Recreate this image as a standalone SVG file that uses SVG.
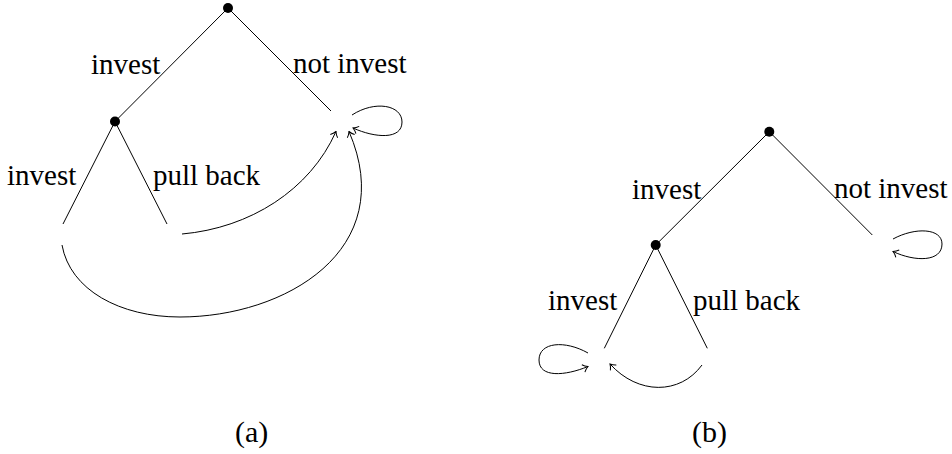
<svg xmlns="http://www.w3.org/2000/svg" width="952" height="454" viewBox="0 0 952 454">
<style>
  .edge { fill: none; stroke: #000; stroke-width: 1; }
  .arr { fill: none; stroke: #000; stroke-width: 1; marker-end: url(#to); }
  .dot { fill: #000; }
  text { font-family: "Liberation Serif", "DejaVu Serif", serif; font-size: 29px; fill: #000; }
  .cap { font-size: 30px; }
</style>
<defs>
  <marker id="to" viewBox="-6 -5 7 10" refX="0" refY="0" markerWidth="7" markerHeight="10" markerUnits="userSpaceOnUse" orient="auto">
    <path d="M -5 -4 C -3 -1.5, -1 -0.5, 0 0 C -1 0.5, -3 1.5, -5 4" fill="none" stroke="#000" stroke-width="1"/>
  </marker>
</defs>
<rect width="952" height="454" fill="#fff"/>

<g id="connectors">
  <!-- tree (a) -->
  <line class="edge" x1="228" y1="8" x2="115" y2="121.5"/>
  <line class="edge" x1="228" y1="8" x2="331" y2="111"/>
  <line class="edge" x1="115" y1="121.5" x2="63" y2="224"/>
  <line class="edge" x1="115" y1="121.5" x2="167" y2="224"/>
  <path class="arr" d="M 352 115 C 375 100, 402 105, 402 122 C 402 140, 375 138, 353 128"/>
  <path class="arr" d="M 182 234 C 250 228, 310 190, 336 131.5"/>
  <path class="arr" d="M 62 245 C 70 290, 120 317, 180 317 C 285 317, 400 250, 349 131.5"/>
  <!-- tree (b) -->
  <line class="edge" x1="769.3" y1="131.7" x2="655.7" y2="245"/>
  <line class="edge" x1="769.3" y1="131.7" x2="872.3" y2="235"/>
  <line class="edge" x1="655.7" y1="245" x2="604.3" y2="348.3"/>
  <line class="edge" x1="655.7" y1="245" x2="707.3" y2="348.3"/>
  <path class="arr" d="M 893 239 C 915 227, 942 228, 942 244 C 942 262, 915 262, 893 251.5"/>
  <path class="arr" d="M 588 353 C 565 340, 539 342, 539 360 C 539 378, 565 376, 588 366.5"/>
  <path class="arr" d="M 702 365 C 680 395, 638 395, 610 364"/>
</g>

<g id="a-root"><circle class="dot" cx="228" cy="8" r="5"/></g>
<g id="a-invest-node"><circle class="dot" cx="115" cy="121.5" r="5"/></g>
<g id="b-root"><circle class="dot" cx="769.3" cy="131.7" r="5"/></g>
<g id="b-invest-node"><circle class="dot" cx="655.7" cy="245" r="5"/></g>

<g id="labels-a">
  <text x="91" y="74">invest</text>
  <text x="293" y="73">not invest</text>
  <text x="7" y="185">invest</text>
  <text x="153" y="185">pull back</text>
  <text class="cap" x="235" y="442">(a)</text>
</g>
<g id="labels-b">
  <text x="632" y="199">invest</text>
  <text x="834" y="198">not invest</text>
  <text x="548" y="310">invest</text>
  <text x="693" y="310">pull back</text>
  <text class="cap" x="692" y="442">(b)</text>
</g>
</svg>
